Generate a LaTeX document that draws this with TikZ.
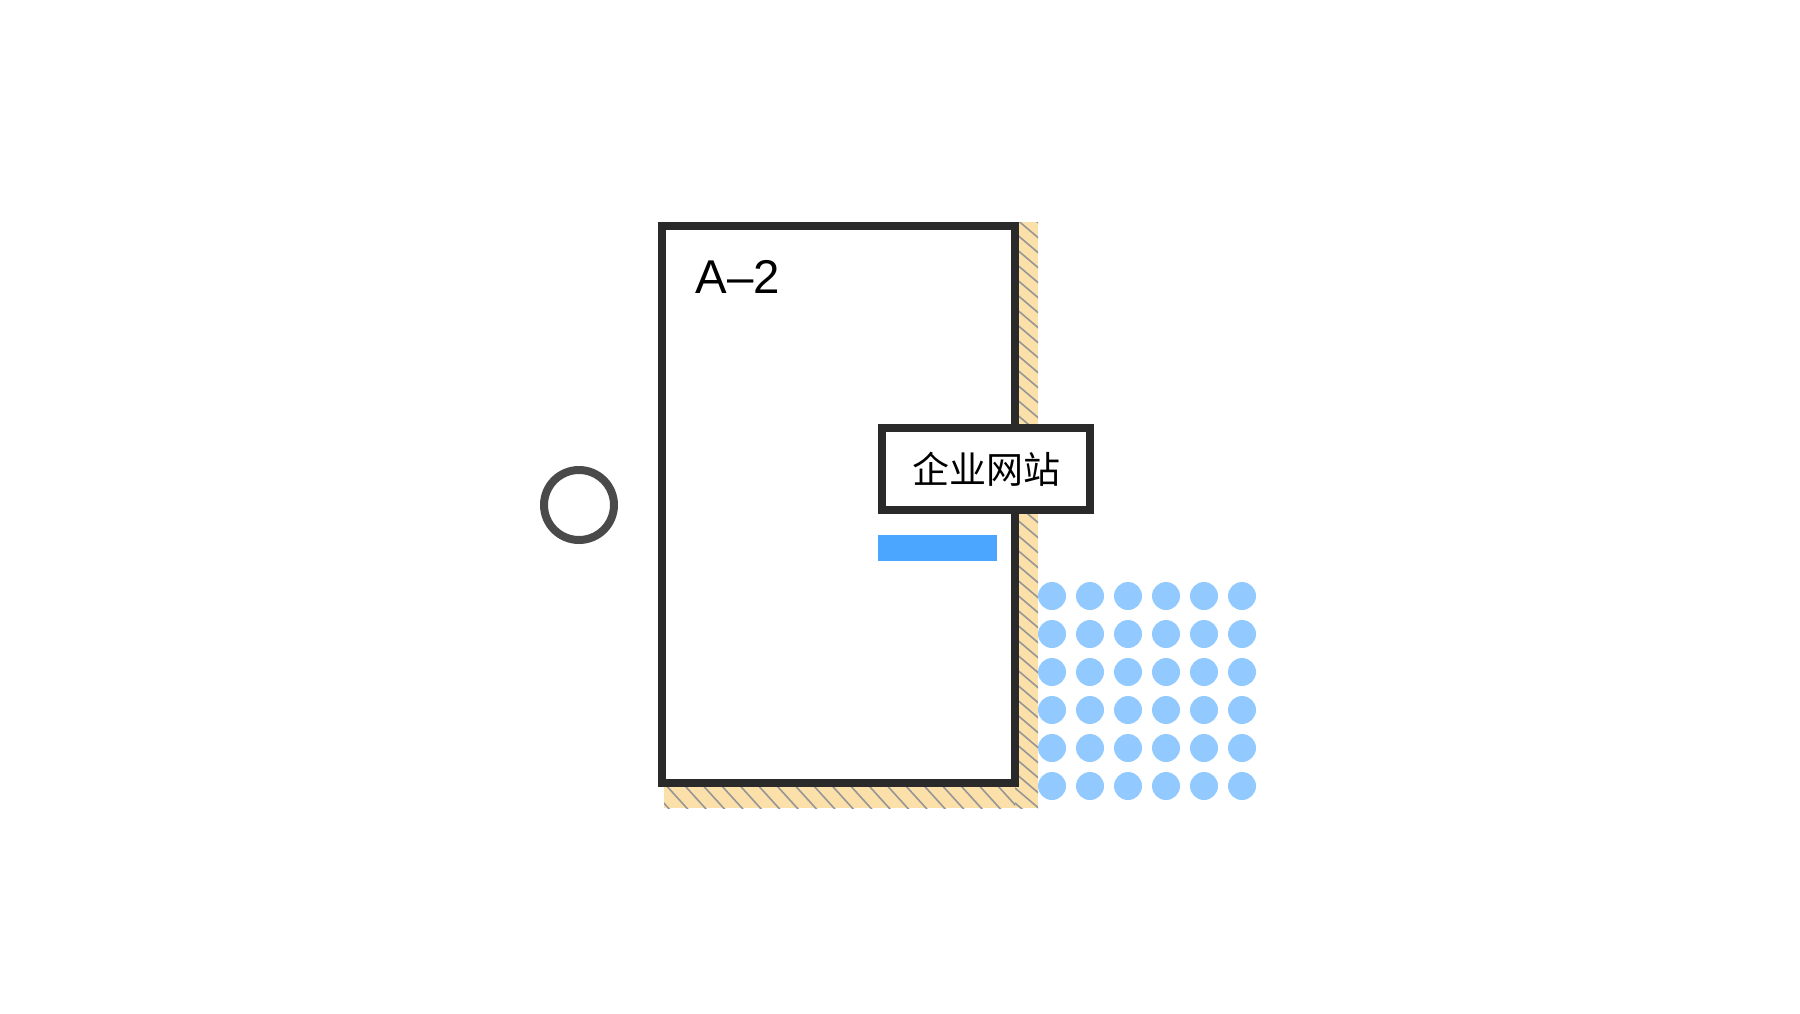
\documentclass[tikz,border=0pt]{standalone}
\usepackage{fontspec}
\setmainfont{Liberation Sans}
\newfontfamily\cjk{Noto Sans CJK SC}
\definecolor{wallfill}{RGB}{252,224,170}
\definecolor{hatchgray}{RGB}{150,150,150}
\definecolor{roomline}{RGB}{42,42,42}
\definecolor{ringgray}{RGB}{74,74,74}
\definecolor{barblue}{RGB}{74,166,255}
\definecolor{dotblue}{RGB}{146,202,255}
\begin{document}
\begin{tikzpicture}[x=0.5pt,y=-0.5pt]
\def\dotstep{38}
\tikzstyle{hatchline} = [hatchgray,line width=0.8pt]
\tikzstyle{roomedge} = [roomline,line width=4pt]
\tikzstyle{signbox} = [draw=roomline,line width=4pt,fill=white,inner sep=0pt,minimum width=104pt,minimum height=41pt]
  \useasboundingbox (0,0) rectangle (1800,1013);
  %wall strip, right side
  \fill[wallfill] (1015,222) rectangle (1038,808);
  \begin{scope}
    \clip (1015,222) rectangle (1038,808);
      \foreach \y in {207,222,...,822}
      \draw[hatchline] (1015,\y-4) -- ++(30,25.5);
  \end{scope}
  %wall strip, bottom side
  \fill[wallfill] (664,783) rectangle (1015,808);
  \begin{scope}
    \clip (664,783) rectangle (1015,808);
      \foreach \x in {645.6,664,...,1030}
      \draw[hatchline] (\x,783) -- ++(25,27.5);
  \end{scope}
  %room
  \draw[roomedge,fill=white] (662,226) rectangle (1015,783);
  \node[anchor=base west,font=\fontsize{23.7}{28}\selectfont,inner sep=0pt] (roomname) at (695,293) {A–2};
  %sign
  \node[signbox,font=\cjk\fontsize{18.5}{22}\selectfont] (sign) at (986,469) {企业网站};
  \fill[barblue] (878,535) rectangle (997,561);
  %door ring
  \draw[ringgray,line width=4pt] (579,505) circle (17.5pt);
    %dots
    \foreach \i in {0,...,5}
    \foreach \j in {0,...,5}
    \fill[dotblue] (1052+\i*\dotstep,596+\j*\dotstep) circle (7pt);
\end{tikzpicture}
\end{document}
